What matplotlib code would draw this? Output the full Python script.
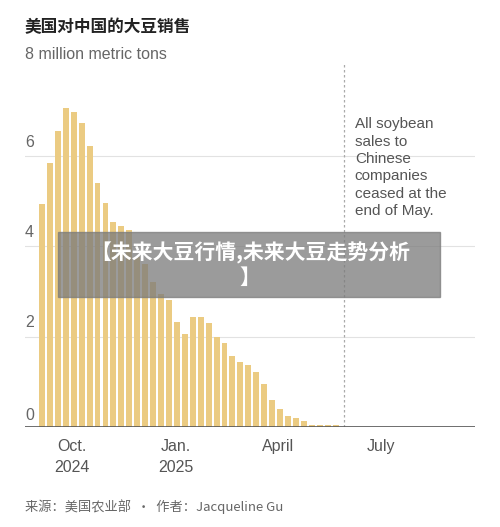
import matplotlib.pyplot as plt
import matplotlib.dates as mdates
import numpy as np
import pandas as pd

plt.rcParams['font.family'] = ['Liberation Sans', 'Noto Sans CJK SC', 'DejaVu Sans']
CJK = ['Noto Sans CJK SC', 'DejaVu Sans']

# weekly US soybean sales to China, million metric tons
weeks = pd.date_range("2024-09-05", periods=38, freq="7D")
sales = [4.94, 5.85, 6.55, 7.07, 6.96, 6.73, 6.21, 5.39, 4.96, 4.53,
         4.45, 4.35, 3.76, 3.61, 3.21, 2.94, 2.81, 2.33, 2.05, 2.44,
         2.44, 2.31, 1.98, 1.85, 1.57, 1.44, 1.36, 1.21, 0.94, 0.59,
         0.39, 0.25, 0.20, 0.13, 0.05, 0.05, 0.05, 0.05]
tick_dates = pd.to_datetime(["2024-10-01", "2025-01-01", "2025-04-01", "2025-07-01"])
tick_labels = ["Oct.\n2024", "Jan.\n2025", "April", "July"]
cutoff = pd.Timestamp("2025-05-29")

fig = plt.figure(figsize=(5, 5.27), dpi=100)
ax = fig.add_axes([0.05, 0.19, 0.90, 0.69])

ax.bar(weeks, sales, width=5.2, color='#ebcb82', zorder=2)
ax.set_xlim(pd.Timestamp("2024-08-21"), pd.Timestamp("2025-09-22"))
ax.set_ylim(0, 8.05)

for v in [2, 4, 6]:
    ax.axhline(v, color='#e2e2e2', lw=0.8, zorder=1)
    ax.text(0.0, v + 0.2, str(v), transform=ax.get_yaxis_transform(),
            fontsize=11.5, color='#666666', ha='left')
ax.text(0.0, 0.15, "0", transform=ax.get_yaxis_transform(),
        fontsize=11.5, color='#666666', ha='left')
ax.axhline(0, color='#555555', lw=1.2, zorder=3)
ax.axvline(cutoff, color='#aaaaaa', lw=0.9, ls=(0, (2, 2)), zorder=1)

ax.set_xticks(tick_dates)
ax.set_xticklabels(tick_labels, fontsize=11.5, color='#555555', linespacing=1.5)
ax.tick_params(axis='x', length=0, pad=9)
ax.set_yticks([])
for s in ax.spines.values():
    s.set_visible(False)

ax.text(pd.Timestamp("2025-06-08"), 6.85,
        "All soybean\nsales to\nChinese\ncompanies\nceased at the\nend of May.",
        fontsize=11, color='#555555', va='top', ha='left', linespacing=1.3)

fig.text(0.05, 0.94, "美国对中国的大豆销售", fontsize=12, fontweight='bold', color='#222222', family=CJK)
fig.text(0.05, 0.888, "8 million metric tons", fontsize=11.5, color='#666666')
fig.text(0.05, 0.03, "来源：美国农业部  ·  作者：Jacqueline Gu", fontsize=9.5, color='#666666', family=CJK)

# watermark banner
fig.patches.append(plt.Rectangle((0.116, 0.436), 0.764, 0.124, transform=fig.transFigure,
                                 color='#7a7a7a', alpha=0.75, zorder=5))
fig.text(0.5, 0.498, "【未来大豆行情,未来大豆走势分析\n】", fontsize=15, fontweight='bold',
         color='white', ha='center', va='center', zorder=6, linespacing=1.15, family=CJK)

fig.savefig("out.png", dpi=100)
